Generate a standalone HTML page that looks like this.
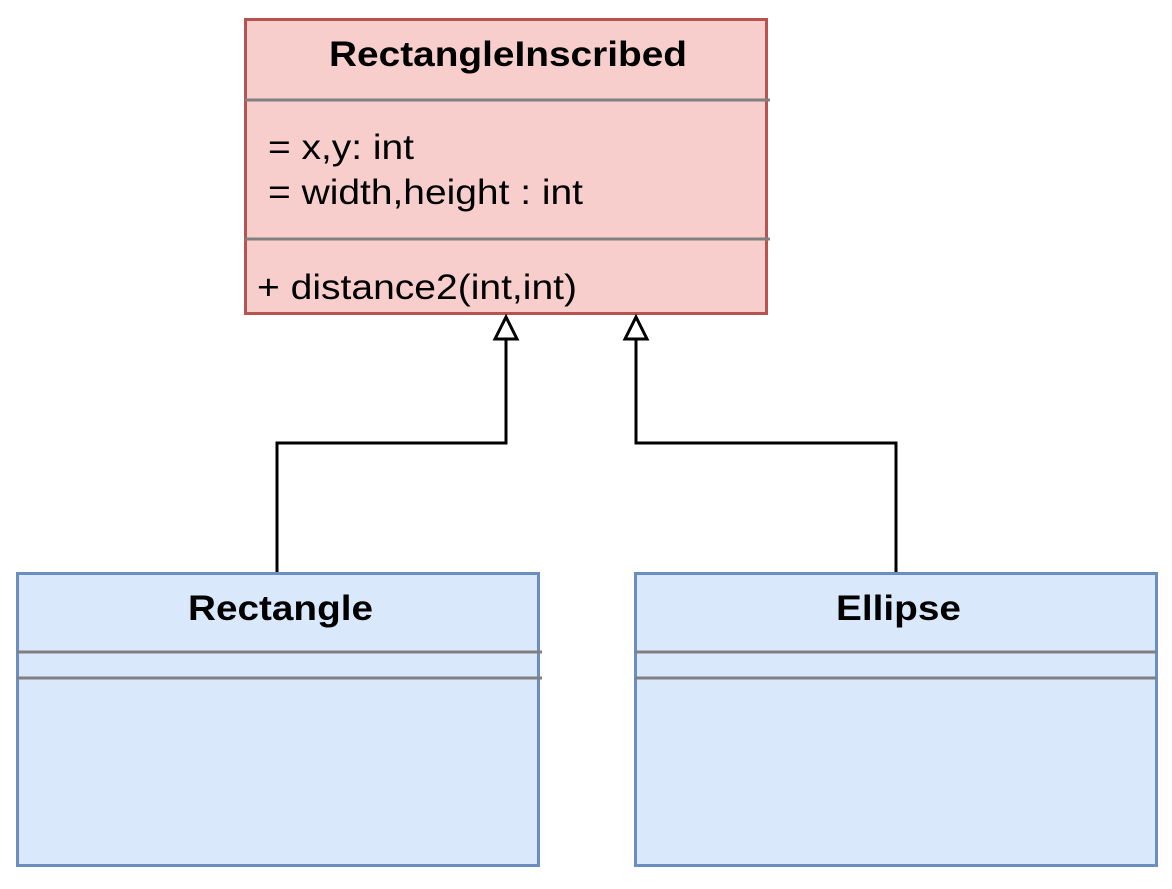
<!DOCTYPE html>
<html><head><style>html,body{margin:0;padding:0;background:#fff;}</style></head>
<body>
<svg width="1172" height="884" viewBox="0 0 1172 884" xmlns="http://www.w3.org/2000/svg" font-family="Liberation Sans, Arial, sans-serif">
<rect x="0" y="0" width="1172" height="884" fill="#fff"/>
<!-- top box -->
<rect x="245.5" y="19.5" width="521" height="294" fill="#f8cecc" stroke="#b85450" stroke-width="3"/>
<line x1="245" y1="100" x2="770" y2="100" stroke="#808080" stroke-width="3"/>
<line x1="245" y1="239" x2="770" y2="239" stroke="#808080" stroke-width="3"/>
<text x="329" y="66" font-size="35" font-weight="bold" textLength="358" lengthAdjust="spacingAndGlyphs">RectangleInscribed</text>
<text x="268" y="159" font-size="35" textLength="146" lengthAdjust="spacingAndGlyphs">= x,y: int</text>
<text x="268" y="204" font-size="35" textLength="315" lengthAdjust="spacingAndGlyphs">= width,height : int</text>
<text x="257" y="299" font-size="35" textLength="320" lengthAdjust="spacingAndGlyphs">+ distance2(int,int)</text>
<!-- bottom left -->
<rect x="17.5" y="573.5" width="521" height="292" fill="#dae8fc" stroke="#6c8ebf" stroke-width="3"/>
<line x1="17" y1="652" x2="542" y2="652" stroke="#808080" stroke-width="3"/>
<line x1="17" y1="678" x2="542" y2="678" stroke="#808080" stroke-width="3"/>
<text x="188" y="620" font-size="35" font-weight="bold" textLength="185" lengthAdjust="spacingAndGlyphs">Rectangle</text>
<!-- bottom right -->
<rect x="635.5" y="573.5" width="521" height="292" fill="#dae8fc" stroke="#6c8ebf" stroke-width="3"/>
<line x1="635" y1="652" x2="1156" y2="652" stroke="#808080" stroke-width="3"/>
<line x1="635" y1="678" x2="1156" y2="678" stroke="#808080" stroke-width="3"/>
<text x="836" y="620" font-size="35" font-weight="bold" textLength="125" lengthAdjust="spacingAndGlyphs">Ellipse</text>
<!-- connectors -->
<polyline points="277,572 277,443 506,443 506,339" fill="none" stroke="#000" stroke-width="3"/>
<polyline points="896,572 896,443 636,443 636,339" fill="none" stroke="#000" stroke-width="3"/>
<polygon points="506,317 495,339 517,339" fill="#fff" stroke="#000" stroke-width="3"/>
<polygon points="636,317 625,339 647,339" fill="#fff" stroke="#000" stroke-width="3"/>
</svg>
</body></html>
